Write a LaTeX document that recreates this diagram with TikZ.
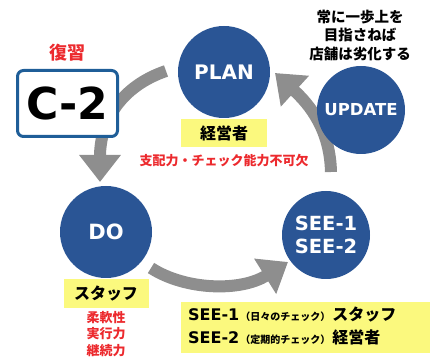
\documentclass[tikz,border=0pt]{standalone}
\usepackage{fontspec}
\setmainfont{DejaVu Sans}
\newfontfamily\jp{Noto Sans CJK JP}
\usepackage{tikz}
\usetikzlibrary{positioning,arrows.meta}

\definecolor{PdcaBlue}{HTML}{2A5595}
\definecolor{LabelYellow}{HTML}{FBF97E}
\definecolor{ArrowGray}{HTML}{8E8E8E}
\definecolor{NoteRed}{HTML}{EC2A2E}
\definecolor{BoxBlue}{HTML}{1F5E98}

\tikzset{
    phase/.style={circle, fill=PdcaBlue, text=white, inner sep=0pt,
        font=\bfseries, align=center},
    role/.style={fill=LabelYellow, inner sep=0pt,
        font=\jp\bfseries\fontsize{16}{20}\selectfont},
    note/.style={text=NoteRed, align=center},
    cyclearrow/.style={ArrowGray, line width=12pt,
        -{Triangle[width=40pt,length=27pt]}},
}

\begin{document}
\begin{tikzpicture}[x=1pt,y=-1pt]
    \useasboundingbox (0,0) rectangle (434,358);

    % free ends of the cycle arrows
    \coordinate (planout) at (166,71);
    \coordinate (doin) at (100,182);
    \coordinate (doout) at (151,268);
    \coordinate (seein) at (288,262);
    \coordinate (seeout) at (331,172);
    \coordinate (planin) at (275,73);

    \draw[cyclearrow] (planout) .. controls (122,86) and (100,120) .. (doin);
    \draw[cyclearrow] (doout) .. controls (185,290) and (240,292) .. (seein);
    \draw[cyclearrow] (seeout) .. controls (330,130) and (310,105) .. (planin);

    % phases
    \node[phase, minimum size=92pt, font=\bfseries\fontsize{20}{24}\selectfont]
        (plan) at (224,72) {PLAN};
    \node[phase, minimum size=88pt, font=\bfseries\fontsize{16.5}{20}\selectfont]
        (update) at (361,110) {UPDATE};
    \node[phase, minimum size=92pt, font=\bfseries\fontsize{21}{24}\selectfont]
        (do) at (106,232) {DO};
    \node[phase, minimum size=88pt, font=\bfseries\fontsize{19.5}{23}\selectfont]
        (see) at (326,235) {SEE-1\\SEE-2};

    % roles
    \node[role, below=1pt of plan, minimum width=86pt, minimum height=28pt]
        (planrole) {経営者};
    \node[role, below=1pt of do, minimum width=85pt, minimum height=29pt]
        (dorole) {スタッフ};
    \node[fill=LabelYellow, anchor=west, inner xsep=7pt, inner ysep=0pt,
        text width=235pt, align=left, minimum height=51pt,
        font=\fontsize{16}{23}\selectfont] (seerole) at (181,327.5) {%
        \begin{tabular}{@{}l@{\hspace{1pt}}l@{\hspace{2pt}}l@{}}
        \bfseries SEE-1 & \jp\bfseries\fontsize{10}{12}\selectfont （日々のチェック）
            & \jp\bfseries スタッフ\\
        \bfseries SEE-2 & \jp\bfseries\fontsize{10}{12}\selectfont （定期的チェック）
            & \jp\bfseries 経営者
        \end{tabular}};

    % notes
    \node[note, below=3pt of planrole, font=\jp\bfseries\fontsize{13}{16}\selectfont]
        (plannote) {支配力・チェック能力不可欠};
    \node[note, font=\jp\bfseries\fontsize{13}{16.5}\selectfont]
        (donote) at (106,334) {柔軟性\\実行力\\継続力};
    \node[align=center, font=\jp\bfseries\fontsize{14.5}{18.5}\selectfont]
        (motto) at (360,35.5) {常に一歩上を\\目指さねば\\店舗は劣化する};

    % review tag
    \node[draw=BoxBlue, line width=3pt, rounded corners=6pt, fill=white,
        minimum width=100pt, minimum height=66pt, inner sep=0pt,
        font=\bfseries\fontsize{44}{48}\selectfont] (tag) at (67.5,103.5) {C-2};
    \node[note, above=4pt of tag, font=\jp\bfseries\fontsize{18}{20}\selectfont]
        (review) {復習};
\end{tikzpicture}
\end{document}
